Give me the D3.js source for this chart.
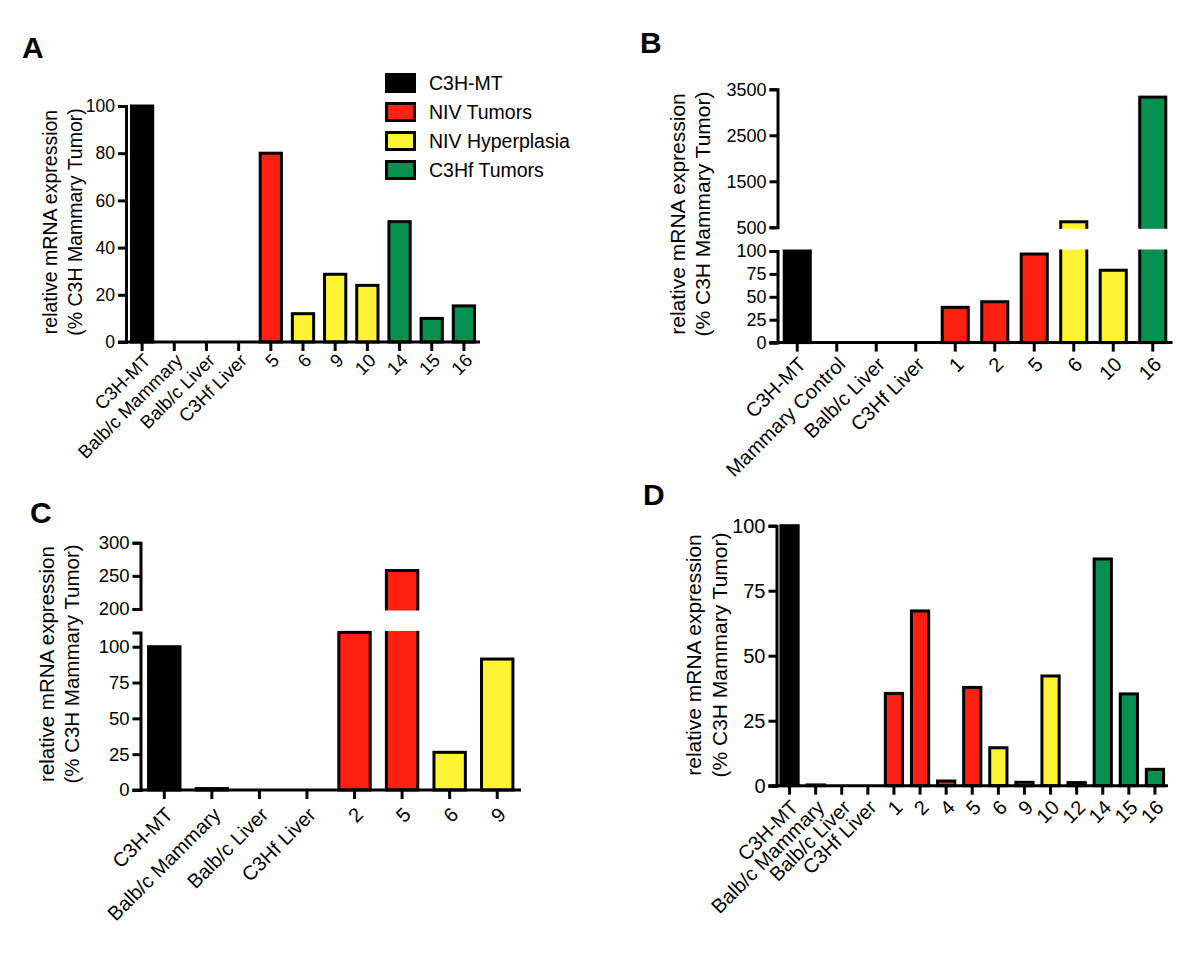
<!DOCTYPE html>
<html><head><meta charset="utf-8">
<script src="https://cdn.jsdelivr.net/npm/d3@7"></script>
<style>
html,body{margin:0;padding:0;background:#fff;}
svg{display:block;font-family:"Liberation Sans",Arial,Helvetica,sans-serif;}
</style></head><body>
<svg id="chart" width="1200" height="964"></svg>
<script>
// ---------------- data ----------------
const legendLabels = ["C3H-MT", "NIV Tumors", "NIV Hyperplasia", "C3Hf Tumors"];
const groupColors = ["#000000", "#fe2010", "#fff433", "#05904f", "#ffffff"];

const catsA = ["C3H-MT", "Balb/c Mammary", "Balb/c Liver", "C3Hf Liver", "5", "6", "9", "10", "14", "15", "16"];
const valsA = [100, 0, 0, 0, 80, 12, 28.7, 24, 51, 10, 15.3];
const groupsA = [0, 4, 4, 4, 1, 2, 2, 2, 3, 3, 3];
const ticksA = [0, 20, 40, 60, 80, 100];

const catsB = ["C3H-MT", "Mammary Control", "Balb/c Liver", "C3Hf Liver", "1", "2", "5", "6", "10", "16"];
const valsB = [100, 0, 0, 0, 38.5, 44.6, 96.7, 620, 79, 3330];
const groupsB = [0, 4, 4, 4, 1, 1, 1, 2, 2, 3];
const ticksBLow = [0, 25, 50, 75, 100];
const ticksBHigh = [500, 1500, 2500, 3500];

const catsC = ["C3H-MT", "Balb/c Mammary", "Balb/c Liver", "C3Hf Liver", "2", "5", "6", "9"];
const valsC = [100, 1, 0, 0, 110, 258, 26.3, 91.4];
const groupsC = [0, 4, 4, 4, 1, 1, 2, 2];
const ticksCLow = [0, 25, 50, 75, 100];
const ticksCHigh = [200, 250, 300];

const catsD = ["C3H-MT", "Balb/c Mammary", "Balb/c Liver", "C3Hf Liver", "1", "2", "4", "5", "6", "9", "10", "12", "14", "15", "16"];
const valsD = [100, 0.3, 0, 0, 35.5, 67.2, 1.8, 37.8, 14.6, 1.3, 42.2, 1.2, 87.2, 35.3, 6.3];
const groupsD = [0, 4, 4, 4, 1, 1, 1, 1, 2, 2, 2, 2, 3, 3, 3];
const ticksD = [0, 25, 50, 75, 100];

const yTitle1 = "relative mRNA expression";
const yTitle2 = "(% C3H Mammary Tumor)";

// ---------------- layout ----------------
const panels = [
  { letter: "A", letterPos: [22, 58], cats: catsA, vals: valsA, groups: groupsA,
    xRange: [126, 480], base: 342,
    segs: [{ dom: [0, 100], rng: [342, 106], ticks: ticksA }],
    tickFont: 17.5, xFont: 18.5, titleFont: 19.5, titleX: [57, 82], titleY: 222, labOff: 15 },
  { letter: "B", letterPos: [640, 53], cats: catsB, vals: valsB, groups: groupsB,
    xRange: [777.5, 1172.5], base: 342.6,
    segs: [{ dom: [0, 100], rng: [342.6, 251], ticks: ticksBLow },
           { dom: [500, 3500], rng: [227.3, 89.3], ticks: ticksBHigh }],
    tickFont: 18, xFont: 20, titleFont: 21, titleX: [685, 710], titleY: 214, labOff: 18 },
  { letter: "C", letterPos: [30, 523], cats: catsC, vals: valsC, groups: groupsC,
    xRange: [140.5, 521], base: 790,
    segs: [{ dom: [0, 110], rng: [790, 632.4], ticks: ticksCLow },
           { dom: [200, 300], rng: [609, 542.7], ticks: ticksCHigh }],
    tickFont: 18.5, xFont: 20, titleFont: 20.5, titleX: [54, 79], titleY: 664, labOff: 21 },
  { letter: "D", letterPos: [643, 505], cats: catsD, vals: valsD, groups: groupsD,
    xRange: [776.5, 1168], base: 785.7,
    segs: [{ dom: [0, 100], rng: [785.7, 525.7], ticks: ticksD }],
    tickFont: 20, xFont: 20, titleFont: 21, titleX: [701, 727], titleY: 655, labOff: 18 }
];

const legend = { x: 385, y: 73, w: 31, h: 20, step: 29, textX: 429, font: 19.5 };

const svg = d3.select("#chart");
const SW = 3;

panels.forEach(p => {
  const g = svg.append("g");
  const x = d3.scaleBand().domain(p.cats).range(p.xRange).paddingInner(0.34).paddingOuter(0.17);
  p.segs.forEach(s => { s.scale = d3.scaleLinear().domain(s.dom).range(s.rng); });
  const yOf = v => {
    for (let i = 0; i < p.segs.length; i++) {
      const s = p.segs[i];
      if (v <= s.dom[1] || i === p.segs.length - 1) return s.scale(Math.max(v, s.dom[0]));
      const nx = p.segs[i + 1];
      if (v < nx.dom[0]) return s.scale(s.dom[1]);
    }
  };
  const data = p.cats.map((c, i) => ({ c, v: p.vals[i], g: p.groups[i] }));

  // bars
  g.selectAll("rect.bar").data(data).join("rect")
    .attr("class", "bar")
    .attr("x", d => x(d.c))
    .attr("width", x.bandwidth())
    .attr("y", d => yOf(d.v))
    .attr("height", d => p.base - yOf(d.v))
    .attr("fill", d => groupColors[d.g])
    .attr("stroke", "#000")
    .attr("stroke-width", SW);

  // gaps for broken axes
  for (let i = 0; i < p.segs.length - 1; i++) {
    const lo = p.segs[i], hi = p.segs[i + 1];
    const yTop = hi.scale(hi.dom[0]), yBot = lo.scale(lo.dom[1]);
    g.selectAll(null).data(data.filter(d => d.v > lo.dom[1])).join("rect")
      .attr("x", d => x(d.c) - SW)
      .attr("width", x.bandwidth() + 2 * SW)
      .attr("y", yTop + SW / 2)
      .attr("height", yBot - yTop - SW)
      .attr("fill", "#fff");
  }

  // y axes
  p.segs.forEach(s => {
    const ax = g.append("g")
      .attr("transform", `translate(${p.xRange[0]},0)`)
      .call(d3.axisLeft(s.scale).tickValues(s.ticks).tickSize(8).tickSizeOuter(8).tickPadding(3).tickFormat(d3.format("d")));
    ax.selectAll("path,line").attr("stroke", "#000").attr("stroke-width", SW);
    ax.selectAll("text").attr("font-size", p.tickFont).attr("font-family", "Liberation Sans, Arial, sans-serif").attr("fill", "#000");
  });

  // x axis
  const xa = g.append("g")
    .attr("transform", `translate(0,${p.base})`)
    .call(d3.axisBottom(x).tickSize(9).tickSizeOuter(0));
  xa.selectAll("path,line").attr("stroke", "#000").attr("stroke-width", SW);
  xa.select(".domain").attr("d", `M${p.xRange[0] - 8},0H${p.xRange[1]}`);
  xa.selectAll("text")
    .attr("font-size", p.xFont).attr("font-family", "Liberation Sans, Arial, sans-serif").attr("fill", "#000")
    .attr("text-anchor", "end").attr("x", 0).attr("y", 0).attr("dy", "0.35em")
    .attr("transform", `translate(5,${p.labOff}) rotate(-45)`);

  // y title
  g.append("text").attr("font-size", p.titleFont).attr("text-anchor", "middle").attr("fill", "#000")
    .attr("transform", `translate(${p.titleX[0]},${p.titleY}) rotate(-90)`).text(yTitle1);
  g.append("text").attr("font-size", p.titleFont).attr("text-anchor", "middle").attr("fill", "#000")
    .attr("transform", `translate(${p.titleX[1]},${p.titleY}) rotate(-90)`).text(yTitle2);

  // panel letter
  g.append("text").attr("x", p.letterPos[0]).attr("y", p.letterPos[1])
    .attr("font-size", 30).attr("font-weight", "bold").attr("fill", "#000").text(p.letter);
});

// legend (panel A)
const lg = svg.append("g");
legendLabels.forEach((lab, i) => {
  const y = legend.y + i * legend.step;
  lg.append("rect").attr("x", legend.x + 1.5).attr("y", y + 1.5)
    .attr("width", legend.w - 3).attr("height", legend.h - 3)
    .attr("fill", groupColors[i]).attr("stroke", "#000").attr("stroke-width", SW);
  lg.append("text").attr("x", legend.textX).attr("y", y + legend.h / 2).attr("dy", "0.35em")
    .attr("font-size", legend.font).attr("fill", "#000").text(lab);
});
</script>
</body></html>
